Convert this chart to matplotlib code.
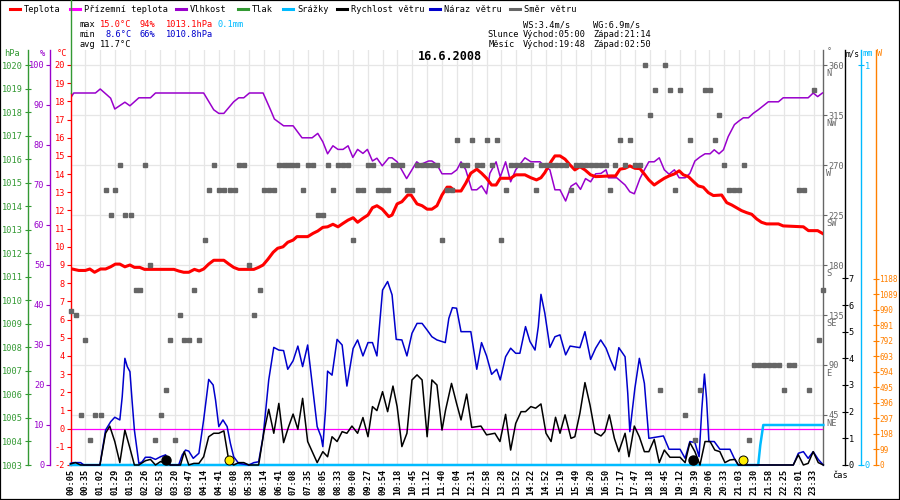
import matplotlib
matplotlib.use("Agg")
import matplotlib.pyplot as plt
import matplotlib.transforms as mtransforms
from matplotlib.lines import Line2D
from matplotlib.patches import Rectangle

plt.rcParams["font.family"] = ["DejaVu Sans Mono", "DejaVu Sans"]
plt.rcParams["axes.unicode_minus"] = False

# ---------------- data ----------------
title = "16.6.2008"
time_labels = ["00:05", "00:35", "01:02", "01:29", "01:59", "02:26", "02:53", "03:20", "03:47", "04:14",
               "04:41", "05:08", "05:38", "06:14", "06:41", "07:08", "07:35", "08:05", "08:33", "09:00",
               "09:27", "09:54", "10:18", "10:45", "11:12", "11:40", "12:04", "12:31", "12:58", "13:28",
               "13:52", "14:22", "14:52", "15:19", "15:49", "16:20", "16:50", "17:17", "17:47", "18:18",
               "18:45", "19:12", "19:39", "20:06", "20:33", "21:03", "21:30", "21:58", "22:25", "23:01",
               "23:33"]
samples_per_label = 5  # x axis = sample index

# (sample index, temperature degC)
temperature = [(0, 8.8), (2.8, 8.7), (5, 8.7), (6.5, 8.78), (8.1, 8.6), (10.1, 8.78), (11.8, 8.78), (13.5, 8.9),
               (15.1, 9.05), (16.6, 9.05), (18.3, 8.9), (20, 9.0), (21.5, 8.87), (23.3, 8.87), (24.9, 8.76),
               (34.8, 8.76), (36.4, 8.67), (38.1, 8.6), (39.8, 8.6), (41.7, 8.76), (43.3, 8.67), (44.8, 8.78),
               (46.5, 9.05), (48.2, 9.26), (51.6, 9.26), (53.3, 9.05), (54.9, 8.87), (56.6, 8.76), (61.7, 8.76),
               (63.3, 8.87), (64.8, 9.0), (66.4, 9.31), (68.2, 9.7), (69.7, 9.92), (71.5, 10.0), (73.1, 10.25),
               (74.9, 10.37), (76.2, 10.56), (79.8, 10.56), (81.6, 10.74), (83.2, 10.87), (84.9, 11.07),
               (86.5, 11.1), (88.3, 11.24), (90, 11.1), (91.7, 11.29), (93.4, 11.47), (95.1, 11.6),
               (96.6, 11.35), (98.4, 11.57), (100.1, 11.75), (101.6, 12.15), (103.1, 12.26), (104.9, 12.07),
               (107.1, 11.66), (108.2, 11.75), (109.9, 12.36), (111.5, 12.48), (113.5, 12.85), (114.6, 12.85),
               (116.6, 12.36), (118.3, 12.26), (120, 12.07), (121.6, 12.07), (123.3, 12.26), (125, 12.85),
               (126.7, 13.28), (127.8, 13.28), (129.4, 13.07), (131.4, 13.07), (133, 13.5), (134.7, 14.05),
               (136.7, 14.27), (138.3, 14.05), (140, 13.77), (141.7, 13.4), (143.2, 13.4), (144.6, 13.77),
               (148.1, 13.77), (149.8, 13.96), (152.9, 13.96), (154.9, 13.8), (156.8, 13.68), (158.3, 13.8),
               (159.6, 14.08), (161.7, 14.69), (163, 15.0), (164.7, 15.0), (166.4, 14.82), (168.1, 14.5),
               (169.7, 14.23), (171.4, 14.41), (173.1, 14.23), (175, 13.96), (176.7, 13.86), (181.9, 13.9),
               (183.4, 13.9), (184.9, 14.27), (186.6, 14.32), (188.2, 14.45), (189.9, 14.32), (191.6, 14.3),
               (193.1, 14.0), (194.6, 13.68), (196.4, 13.4), (198.1, 13.59), (199.8, 13.77), (201.4, 13.9),
               (203.2, 14.01), (204.8, 14.18), (206.2, 13.96), (207.9, 13.86), (209.6, 13.59), (211.2, 13.35),
               (212.9, 13.28), (214.6, 12.98), (216.3, 12.82), (219.1, 12.85), (220.8, 12.43), (222.5, 12.3),
               (224.1, 12.15), (225.8, 11.99), (227.5, 11.88), (229.2, 11.79), (230.9, 11.53), (232.5, 11.35),
               (234.2, 11.26), (238.2, 11.26), (239.8, 11.15), (246.6, 11.1), (248.3, 10.89), (251.4, 10.89),
               (253, 10.74)]

# (sample index, relative humidity %)
humidity = [(0, 91.7), (1.1, 93), (8.4, 93), (10, 94), (12.3, 92.5), (13.5, 91.7), (14.9, 89), (18.3, 90.7),
            (20, 89.8), (23, 91.8), (26.9, 91.8), (28.6, 93), (44.8, 93), (48.2, 88.8), (49.9, 87.9),
            (51.6, 87.9), (54.9, 90.8), (56.6, 91.8), (58.3, 91.8), (60.2, 93), (64.8, 93), (67.3, 88.8),
            (68.6, 86.5), (71.7, 84.8), (74.9, 84.8), (77.9, 81.8), (81.3, 81.8), (83.2, 82.9), (84.9, 80.8),
            (86.5, 77.8), (88.3, 79.8), (90, 78.9), (91.7, 78.9), (93.4, 79.8), (95, 76.9), (96.6, 78.9),
            (98.4, 77.9), (99.9, 78.9), (101.6, 76), (103.1, 76.7), (104.9, 74.8), (107.1, 76.8), (108.2, 76.8),
            (109.9, 75.8), (113.1, 71.6), (116.5, 75.8), (117.7, 75.1), (120.5, 76), (121.6, 76), (123.3, 75.1),
            (125, 72.8), (128.2, 72.8), (130, 73.8), (131.4, 75.8), (133, 73.8), (135, 68.8), (136.7, 68.8),
            (138.3, 69.8), (140, 67.8), (141.1, 72.9), (143.2, 75.8), (144.6, 72), (146.4, 75.8), (148.1, 70.8),
            (149.8, 73.8), (152.9, 76.8), (154.9, 75.8), (158, 75.8), (159.6, 74.6), (161.3, 73.8), (163, 68.8),
            (164.7, 68.8), (166.6, 66), (168.4, 69.7), (170.1, 70.5), (171.6, 68.9), (173.3, 71.6), (175, 70.8),
            (176.7, 72.8), (178.5, 72.9), (180.2, 73.8), (181, 71.8), (183.8, 71.8), (186.6, 70), (188.2, 68.3),
            (189.7, 67.8), (191.6, 71.6), (193.1, 73.8), (194.6, 75.8), (196.4, 75.8), (198.1, 76.8),
            (199.8, 73.8), (201.4, 72.7), (203.2, 73.8), (204.8, 71.8), (206.8, 71.8), (208.4, 72.9),
            (210.1, 76), (211.8, 77), (213.5, 77.8), (215.2, 77.8), (216.6, 78.8), (218.2, 77.8), (219.7, 78.8),
            (221.3, 82.1), (223.4, 85.1), (224.9, 86), (226.4, 86.8), (228.1, 86.8), (229.7, 87.9),
            (231.4, 88.8), (234.8, 90.8), (238.2, 90.8), (239.8, 91.8), (248.2, 91.8), (249.9, 93),
            (251.4, 92.1), (253, 93)]

# ground temperature (constant 0 degC)
ground_temperature = [(0, 0.0), (253.2, 0.0)]

# (sample index, precipitation mm)
precipitation = [(0, 0.0), (231.4, 0.0), (232.1, 0.05), (233.1, 0.1), (253.3, 0.1)]

# (sample index, wind gust m/s)
wind_gust = [(0, 0.06), (1.1, 0.09), (3.4, 0.09), (4.5, 0), (9.9, 0), (11.8, 1.31), (13.5, 1.62), (14.9, 1.79),
             (16.6, 1.69), (17.4, 2.56), (18.3, 4.0), (19.1, 3.69), (20, 3.5), (20.7, 2.44), (21.5, 1.31),
             (23, 0.06), (24.1, 0.12), (25.2, 0.29), (26.9, 0.29), (28.6, 0.21), (30.3, 0.31), (32, 0.38),
             (33.1, 0.12), (33.6, 0), (36.4, 0), (37.6, 0.38), (38.7, 0.56), (39.8, 0.52), (41.3, 0.25),
             (43.2, 0.44), (44.8, 1.69), (46.5, 3.21), (48, 3.0), (48.8, 2.44), (49.9, 1.44), (51.3, 1.69),
             (52.7, 1.44), (53.8, 0.81), (54.9, 0.31), (56.6, 0.06), (60, 0), (61.7, 0.09), (63.3, 0.12),
             (64.8, 1.06), (66.7, 3.19), (68.4, 4.41), (70.1, 4.31), (71.7, 4.29), (73.1, 3.59), (74.9, 3.91),
             (76.5, 4.46), (78.1, 3.69), (79.8, 4.5), (81.3, 3.06), (83, 1.44), (84.3, 1.06), (84.9, 0.69),
             (85.8, 2.06), (86.5, 3.52), (88, 3.37), (89.7, 4.71), (91.4, 4.5), (93, 2.96), (95.1, 4.37),
             (96.6, 4.69), (98.4, 4.09), (100.1, 4.59), (101.6, 4.59), (103.1, 4.09), (105, 6.56), (106.7, 6.88),
             (108.2, 6.38), (109.6, 4.71), (111.5, 4.69), (113.2, 4.09), (114.9, 4.94), (116.6, 5.31),
             (118.3, 5.31), (120, 5.06), (121.6, 4.81), (123.3, 4.69), (126.1, 4.59), (127.3, 5.5), (128.5, 5.9),
             (129.9, 5.88), (131.4, 5.0), (134.7, 5.0), (135.5, 4.44), (136.7, 3.59), (138.3, 4.59), (140, 4.09),
             (141.7, 3.4), (143.4, 3.59), (144.6, 3.19), (146.4, 4.06), (148.1, 4.38), (149.8, 4.19),
             (151.2, 4.19), (153.1, 5.19), (154.6, 4.63), (156.3, 4.31), (157.4, 5.19), (158.3, 6.4),
             (159.6, 5.69), (161.3, 4.41), (163, 4.81), (164.7, 4.88), (166.6, 4.13), (168.1, 4.46),
             (171.4, 4.4), (173.1, 5.0), (175, 3.96), (176.7, 4.38), (178.4, 4.69), (180.2, 4.38), (181.7, 3.94),
             (183.2, 3.56), (184.5, 4.4), (186.6, 4.06), (187.5, 2.69), (188.2, 1.25), (189.9, 2.88),
             (191.4, 4.0), (193.1, 3.06), (194.6, 1.0), (199.5, 1.09), (201.4, 0.59), (205.1, 0.59),
             (206.8, 0.25), (208.4, 0.88), (210.1, 0.84), (211.5, 0.31), (212.4, 2.06), (213.3, 3.41),
             (214, 2.5), (214.8, 0.88), (216.6, 0.88), (218.5, 0.59), (221.9, 0.59), (223.6, 0.19), (224.7, 0),
             (243.2, 0), (244.9, 0.44), (246.6, 0.5), (248.2, 0.25), (249.9, 0.5), (251.6, 0.21), (253.3, 0)]

# (sample index, wind speed m/s)
wind_speed = [(0, 0.04), (1.7, 0.09), (3.4, 0), (9.9, 0), (11.8, 1.19), (13.2, 1.46), (14.9, 0.88), (16.6, 0.09),
              (18.3, 1.31), (20, 0.63), (21.5, 0), (23, 0), (25.2, 0.16), (26.9, 0.21), (28.6, 0), (30.3, 0.13),
              (32, 0.06), (33.6, 0), (37, 0), (38.3, 0.5), (39.8, 0), (41.5, 0.06), (43.2, 0.06), (44.8, 0.31),
              (46.5, 1.06), (48.2, 1.19), (49.9, 1.19), (51.6, 1.28), (53.3, 0.13), (54.9, 0), (56.6, 0.09),
              (58.3, 0.09), (60, 0), (63.3, 0), (65, 1.19), (66.7, 2.09), (68.4, 1.19), (70.1, 2.31), (71.7, 0.84),
              (73.4, 1.44), (74.9, 1.91), (76.5, 1.34), (78.1, 2.5), (79.8, 0.88), (83, 0.09), (84.9, 0.5),
              (86.5, 0.31), (88, 1.06), (89.7, 0.88), (91.4, 1.25), (93, 1.19), (94.7, 1.46), (96.6, 1.19),
              (98.4, 1.78), (100.1, 1.06), (101.6, 2.19), (103.1, 2.04), (105, 2.75), (106.7, 2.0), (108.5, 2.96),
              (109.9, 2.19), (111.5, 0.69), (113.2, 1.19), (114.9, 3.19), (116.6, 3.38), (118.3, 3.19),
              (120, 1.06), (121.6, 3.19), (123.3, 3.0), (125, 1.31), (126.2, 2.06), (128.2, 3.06), (129.9, 2.31),
              (131.4, 1.69), (133.3, 2.66), (135, 1.41), (138.1, 1.46), (140, 1.13), (142.8, 1.19), (144.5, 0.88),
              (146.4, 1.9), (148.1, 0.56), (149.8, 1.56), (151.6, 2.0), (153.1, 2.0), (154.9, 2.19),
              (156.5, 2.13), (158.3, 2.29), (160, 1.19), (161.7, 0.88), (163.2, 1.79), (164.7, 1.19),
              (166.4, 1.88), (168.4, 1.0), (169.7, 1.06), (171.4, 1.94), (173.1, 3.09), (174.8, 2.25),
              (176.5, 1.21), (178.5, 1.09), (179.8, 1.25), (181.3, 1.88), (183, 1.0), (184.5, 0.5), (186.6, 1.19),
              (187.9, 0.31), (189.7, 1.46), (191.4, 1.06), (193.1, 0.5), (194.6, 0.5), (196.4, 0.96),
              (198.1, 0.09), (199.8, 0.56), (201.7, 0.29), (205.1, 0.29), (206.8, 0.09), (208.4, 0.84),
              (210.1, 0.5), (211.8, 0), (213.5, 0.88), (215.2, 0.88), (216.8, 0.56), (218.5, 0.5), (220.2, 0.09),
              (221.9, 0.19), (223.6, 0.21), (224.7, 0), (243.2, 0), (244.9, 0.38), (246.6, 0), (248.2, 0.06),
              (249.9, 0.5), (251.6, 0.09), (253.3, 0)]

# (sample index, wind direction degrees)
wind_direction = [(0.0, 139), (1.7, 135), (3.4, 45), (5.0, 112.5), (6.7, 22.5), (8.4, 45), (10.1, 45),
                  (11.8, 247.5), (13.5, 225), (15.1, 247.5), (16.8, 270), (18.5, 225), (20.2, 225), (21.9, 157.5),
                  (23.5, 157.5), (25.2, 270), (26.9, 180), (28.6, 22.5), (30.3, 45), (32.0, 67.5), (33.6, 112.5),
                  (35.3, 22.5), (36.7, 135), (38.3, 112.5), (40.0, 112.5), (41.7, 157.5), (43.4, 112.5),
                  (45.1, 202.5), (46.7, 247.5), (48.4, 270), (50.1, 247.5), (51.8, 247.5), (53.5, 247.5),
                  (55.2, 247.5), (56.8, 270), (58.5, 270), (60.2, 180), (61.9, 135), (63.6, 157.5), (65.2, 247.5),
                  (66.9, 247.5), (68.6, 247.5), (70.3, 270), (71.7, 270), (73.1, 270), (74.6, 270), (76.3, 270),
                  (78.1, 247.5), (79.8, 270), (81.5, 270), (83.2, 225), (84.9, 225), (86.7, 270), (88.3, 247.5),
                  (90.0, 270), (91.7, 270), (93.4, 270), (95.1, 202.5), (96.7, 247.5), (98.4, 247.5),
                  (100.1, 270), (101.8, 270), (103.5, 247.5), (105.2, 247.5), (106.8, 247.5), (108.5, 270),
                  (110.2, 270), (111.5, 270), (113.2, 247.5), (114.9, 247.5), (116.6, 270), (118.3, 270),
                  (120.0, 270), (121.6, 270), (123.3, 270), (125.0, 202.5), (126.7, 247.5), (128.2, 247.5),
                  (129.9, 292.5), (131.8, 270), (133.5, 270), (135.0, 292.5), (136.7, 270), (138.3, 270),
                  (140.0, 292.5), (141.7, 270), (143.4, 292.5), (144.7, 202.5), (146.4, 247.5), (148.1, 270),
                  (149.8, 270), (151.6, 270), (153.3, 270), (154.9, 270), (156.6, 247.5), (158.3, 270),
                  (160.0, 270), (161.7, 270), (163.3, 270), (165.0, 270), (166.7, 270), (168.4, 247.5),
                  (170.1, 270), (171.8, 270), (173.4, 270), (175.1, 270), (176.8, 270), (178.5, 270),
                  (180.2, 270), (181.5, 247.5), (183.2, 270), (184.9, 292.5), (186.6, 270), (188.2, 292.5),
                  (189.9, 270), (191.6, 270), (193.3, 360), (195.0, 315), (196.7, 337.5), (198.3, 67.5),
                  (200.0, 360), (201.7, 337.5), (203.4, 247.5), (205.1, 337.5), (206.8, 45), (208.4, 292.5),
                  (210.1, 22.5), (211.8, 67.5), (213.5, 337.5), (215.2, 337.5), (216.8, 292.5), (218.2, 315),
                  (219.9, 270), (221.6, 247.5), (223.2, 247.5), (224.9, 247.5), (226.6, 270), (228.3, 22.5),
                  (230.0, 90), (231.7, 90), (233.3, 90), (235.0, 90), (236.7, 90), (238.4, 90), (240.1, 67.5),
                  (241.7, 90), (243.4, 90), (245.1, 247.5), (246.8, 247.5), (248.5, 67.5), (250.2, 337.5),
                  (251.8, 112.5), (253.1, 157.5)]

sun_events = [53.2, 226.4]    # sunrise 05:00, sunset 21:14 (sample index)
moon_events = [32.0, 209.6]   # moonset 02:50, moonrise 19:48

pressure_ticks = list(range(1003, 1021))
humidity_ticks = list(range(0, 101, 10))
temperature_ticks = list(range(-2, 21))
direction_ticks = [45, 90, 135, 180, 225, 270, 315, 360]
direction_names = ["NE", "E", "SE", "S", "SW", "W", "NW", "N"]
speed_ticks = list(range(0, 8))
rain_ticks = [0, 1]
solar_ticks = list(range(0, 1189, 99))

legend_items = [("Teplota", "#ff0000", 10), ("Přízemní teplota", "#ff00ff", 70), ("Vlhkost", "#9900cc", 176),
                ("Tlak", "#339933", 238), ("Srážky", "#00bbff", 283), ("Rychlost větru", "#000000", 337),
                ("Náraz větru", "#0000cc", 430), ("Směr větru", "#666666", 510)]

# ---------------- layout ----------------
W_PX, H_PX = 900, 500
L, R, T, B = 70.5, 823.0, 50.0, 465.0
SAMPLE_PX = 2.972

C_RED, C_MAG, C_PUR, C_GRN = "#ff0000", "#ff00ff", "#9900cc", "#339933"
C_CYAN, C_BLUE, C_GREY, C_ORA = "#00bbff", "#0000cc", "#666666", "#ff8000"

fig = plt.figure(figsize=(W_PX / 100, H_PX / 100), dpi=100)
rect = [L / W_PX, 1 - B / H_PX, (R - L) / W_PX, (B - T) / H_PX]


def fpos(px, py):
    return px / W_PX, 1 - py / H_PX


def spine_pos(px):
    return (px - L) / (R - L)


base = fig.add_axes(rect)
base.set_xlim(0, (R - L) / SAMPLE_PX)
base.set_ylim(0, (B - T) / (400 / 360))
base.patch.set_facecolor("white")
base.set_xticks([i * samples_per_label for i in range(len(time_labels))])
base.set_xticklabels(time_labels, rotation=90, fontsize=6.2, fontweight="bold")
base.tick_params(axis="x", length=0, pad=3)
base.set_yticks(direction_ticks)
base.grid(True, color="#e6e6e6", lw=0.9)
base.set_axisbelow(True)
for k in ("left", "top", "bottom"):
    base.spines[k].set_visible(False)
base.spines["right"].set_color(C_GREY)
base.spines["right"].set_linewidth(1.0)
base.yaxis.tick_right()
base.tick_params(axis="y", colors=C_GREY, labelsize=6.2, length=3, pad=1, direction="out")
for v, nm in zip(direction_ticks, direction_names):
    base.text(1 + 3 / (R - L), v - 7.6, nm, transform=base.get_yaxis_transform(),
              fontsize=6.2, color=C_GREY, va="center", ha="left", clip_on=False)


def layer(lo, px_per_unit):
    a = fig.add_axes(rect, sharex=base)
    a.set_ylim(lo, lo + (B - T) / px_per_unit)
    a.patch.set_visible(False)
    for sp in a.spines.values():
        sp.set_visible(False)
    a.tick_params(axis="both", which="both", left=False, right=False, bottom=False, top=False,
                  labelleft=False, labelright=False, labelbottom=False)
    a.grid(False)
    return a


def left_axis(a, px, ticks, color, direction="out", length=3):
    a.spines["left"].set_visible(True)
    a.spines["left"].set_position(("axes", spine_pos(px)))
    a.spines["left"].set_color(color)
    a.spines["left"].set_linewidth(1.0)
    a.set_yticks(ticks)
    a.tick_params(axis="y", left=True, labelleft=True, colors=color, labelsize=6.2,
                  direction=direction, length=length, pad=1)


def right_axis(a, px, ticks, color, labelsize=6.2):
    a.spines["right"].set_visible(True)
    a.spines["right"].set_position(("axes", spine_pos(px)))
    a.spines["right"].set_color(color)
    a.spines["right"].set_linewidth(1.0)
    a.yaxis.set_ticks_position("right")
    a.set_yticks(ticks)
    a.tick_params(axis="y", right=True, labelright=True, left=False, labelleft=False, colors=color,
                  labelsize=labelsize, direction="inout", length=4, pad=0.5)


ax_p = layer(1003, 400 / 17)
left_axis(ax_p, 28, pressure_ticks, C_GRN, direction="inout", length=5)

ax_h = layer(0, 4.0)
left_axis(ax_h, 50, humidity_ticks, C_PUR)

ax_t = layer(-2, 400 / 22)
left_axis(ax_t, L, temperature_ticks, C_RED)
ax_t.spines["left"].set_bounds(-2, 18.45)

ax_r = layer(0, 400.0)
right_axis(ax_r, 861, rain_ticks, C_CYAN)

ax_w = layer(0, 400 / 15)
right_axis(ax_w, 845, speed_ticks, "#000000")

ax_s = layer(0, 186.2 / 1188)
right_axis(ax_s, 876, solar_ticks, C_ORA, labelsize=5.6)

ax_d = layer(0, 400 / 360)


def xy(points):
    return [p[0] for p in points], [p[1] for p in points]


x, y = xy(humidity)
ax_h.plot(x, y, color=C_PUR, lw=1.1)
x, y = xy(temperature)
ax_t.plot(x, y, color=C_RED, lw=2.2, solid_joinstyle="round")
x, y = xy(ground_temperature)
ax_t.plot(x, y, color=C_MAG, lw=0.9)
x, y = xy(precipitation)
ax_r.plot(x, y, color=C_CYAN, lw=1.8, clip_on=False, zorder=1)
x, y = xy(wind_gust)
ax_w.plot(x, y, color=C_BLUE, lw=1.1, clip_on=False, zorder=2)
x, y = xy(wind_speed)
ax_w.plot(x, y, color="#000000", lw=1.1, clip_on=False, zorder=3)
x, y = xy(wind_direction)
ax_d.plot(x, y, ls="none", marker="s", ms=3.1, color=C_GREY, mec=C_GREY, clip_on=False)

ev_tr = mtransforms.blended_transform_factory(ax_d.transData, ax_d.transAxes)
ax_d.plot(moon_events, [5 / (B - T)] * len(moon_events), ls="none", marker="o", ms=6.5,
          color="#000000", transform=ev_tr, clip_on=False)
ax_d.plot(sun_events, [5 / (B - T)] * len(sun_events), ls="none", marker="o", ms=6.5,
          mfc="#ffee00", mec="#000000", mew=0.7, transform=ev_tr, clip_on=False)

# ---------------- texts ----------------
FS = 6.2


def ftext(px, py, s, color="#000000", ha="left", **kw):
    fx, fy = fpos(px, py)
    fig.text(fx, fy, s, color=color, ha=ha, va="center", fontsize=kw.pop("fontsize", FS), **kw)


for name, col, x0 in legend_items:
    fx0, fy0 = fpos(x0, 9)
    fx1, _ = fpos(x0 + 10, 9)
    fig.add_artist(Line2D([fx0, fx1], [fy0, fy0], color=col, lw=2.2, transform=fig.transFigure))
    ftext(x0 + 14, 9, name)

ftext(80, 24.5, "max")
ftext(100, 24.5, "15.0°C", C_RED)
ftext(139, 24.5, "94%", C_RED)
ftext(166, 24.5, "1013.1hPa", C_RED)
ftext(218, 24.5, "0.1mm", C_CYAN)
ftext(80, 34, "min")
ftext(105, 34, "8.6°C", C_BLUE)
ftext(139, 34, "66%", C_BLUE)
ftext(166, 34, "1010.8hPa", C_BLUE)
ftext(80, 44.5, "avg")
ftext(100, 44.5, "11.7°C")

ftext(523, 24.5, "WS:3.4m/s")
ftext(593, 24.5, "WG:6.9m/s")
ftext(487, 34, "Slunce")
ftext(523, 34, "Východ:05:00")
ftext(593, 34, "Západ:21:14")
ftext(489, 44.5, "Měsíc")
ftext(523, 44.5, "Východ:19:48")
ftext(593, 44.5, "Západ:02:50")

ftext(450, 57, title, ha="center", fontsize=8.5, fontweight="bold")

ftext(12, 54, "hPa", C_GRN, ha="center")
ftext(42, 54, "%", C_PUR, ha="center")
ftext(62, 54, "°C", C_RED, ha="center")
ftext(829, 52, "°", C_GREY, ha="center")
ftext(846, 54, "m/s", "#000000", fontsize=5.6)
ftext(868, 54, "mm", C_CYAN, ha="center")
ftext(880, 54, "W", C_ORA, ha="center")
ftext(840, 475, "čas", "#000000", ha="center")

gx, gy0 = fpos(71, 0)
_, gy1 = fpos(71, 93)
fig.add_artist(Line2D([gx, gx], [gy0, gy1], color=C_GRN, lw=1.0, transform=fig.transFigure))
fig.add_artist(Rectangle((0, 0), 1, 1, fill=False, ec="#000000", lw=1.6, transform=fig.transFigure))

fig.savefig("out.png", dpi=100)
